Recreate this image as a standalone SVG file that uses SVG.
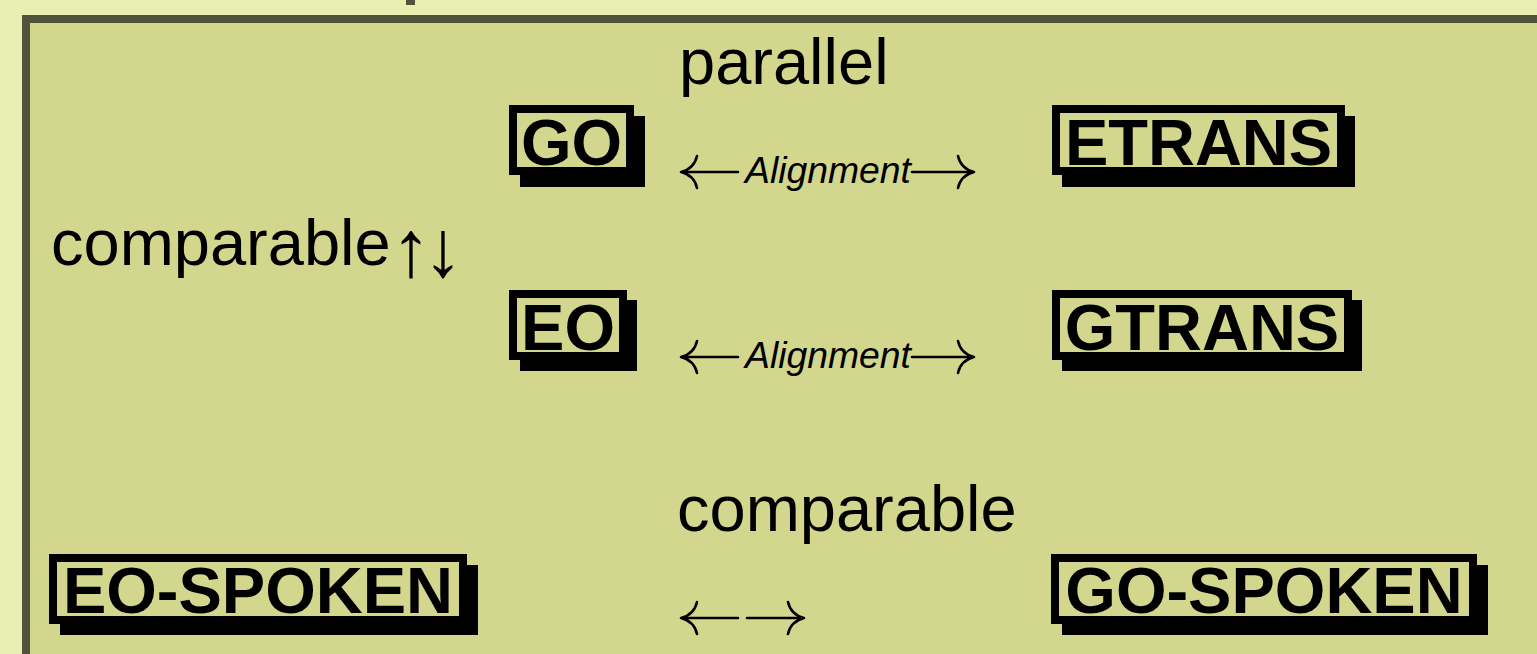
<svg xmlns="http://www.w3.org/2000/svg" width="1537" height="654" viewBox="0 0 1537 654">
  <style>
    .lbl { font-family: "Liberation Sans", Arial, sans-serif; font-size: 65px; fill: #000; }
    .node { font-family: "Liberation Sans", Arial, sans-serif; font-size: 65px; font-weight: bold; fill: #000; text-anchor: middle; }
    .al { font-family: "Liberation Sans", Arial, sans-serif; font-size: 36px; font-style: italic; fill: #000; }
    .frame { fill: #d3d78e; stroke: #000; stroke-width: 8; }
    .shadow { fill: #000; }
    .arr { fill: none; stroke: #000; stroke-width: 2.6; stroke-linecap: round; }
  </style>
  <rect x="0" y="0" width="1537" height="654" fill="#e8efb0"/>
  <rect x="406" y="0" width="9" height="5" fill="#4f533a"/>
  <rect x="26" y="19" width="1600" height="700" fill="#d3d78e" stroke="#4f533a" stroke-width="8"/>

  <text class="lbl" x="679" y="84">parallel</text>
  <text class="lbl" x="51" y="265">comparable<tspan font-size="80" dy="11" letter-spacing="-8">↑↓</tspan></text>
  <text class="lbl" x="677" y="531">comparable</text>

  <g id="node-go">
    <rect class="shadow" x="520" y="116" width="125" height="71"/>
    <rect class="frame" x="513" y="109" width="117" height="62"/>
    <text class="node" x="571.5" y="165">GO</text>
  </g>
  <g id="node-etrans">
    <rect class="shadow" x="1062" y="116" width="293" height="71"/>
    <rect class="frame" x="1056" y="109" width="285" height="62"/>
    <text class="node" x="1198.5" y="165">ETRANS</text>
  </g>
  <g id="node-eo">
    <rect class="shadow" x="520" y="300" width="117" height="71"/>
    <rect class="frame" x="513" y="294" width="110" height="62"/>
    <text class="node" x="568" y="350">EO</text>
  </g>
  <g id="node-gtrans">
    <rect class="shadow" x="1062" y="300" width="300" height="71"/>
    <rect class="frame" x="1056" y="294" width="292" height="62"/>
    <text class="node" x="1202" y="350">GTRANS</text>
  </g>
  <g id="node-eo-spoken">
    <rect class="shadow" x="60" y="565" width="418" height="70"/>
    <rect class="frame" x="53" y="558" width="410" height="62"/>
    <text class="node" x="258" y="613">EO-SPOKEN</text>
  </g>
  <g id="node-go-spoken">
    <rect class="shadow" x="1062" y="565" width="426" height="70"/>
    <rect class="frame" x="1055" y="558" width="418" height="62"/>
    <text class="node" x="1264" y="613">GO-SPOKEN</text>
  </g>

  <g id="connectors">
    <path class="arr" d="M681 172 H738 M697 156 C695 165 689 170 681 172 C689 174 695 179 697 188"/>
    <path class="arr" d="M912 172 H974 M958 156 C960 165 966 170 974 172 C966 174 960 179 958 188"/>
    <text class="al" x="745" y="183" textLength="166" lengthAdjust="spacingAndGlyphs">Alignment</text>
    <path class="arr" d="M681 357 H738 M697 341 C695 350 689 355 681 357 C689 359 695 364 697 373"/>
    <path class="arr" d="M912 357 H974 M958 341 C960 350 966 355 974 357 C966 359 960 364 958 373"/>
    <text class="al" x="745" y="368" textLength="166" lengthAdjust="spacingAndGlyphs">Alignment</text>
    <path class="arr" d="M681 618 H738 M697 602 C695 611 689 616 681 618 C689 620 695 625 697 634"/>
    <path class="arr" d="M747 618 H804 M788 602 C790 611 796 616 804 618 C796 620 790 625 788 634"/>
  </g>
</svg>
